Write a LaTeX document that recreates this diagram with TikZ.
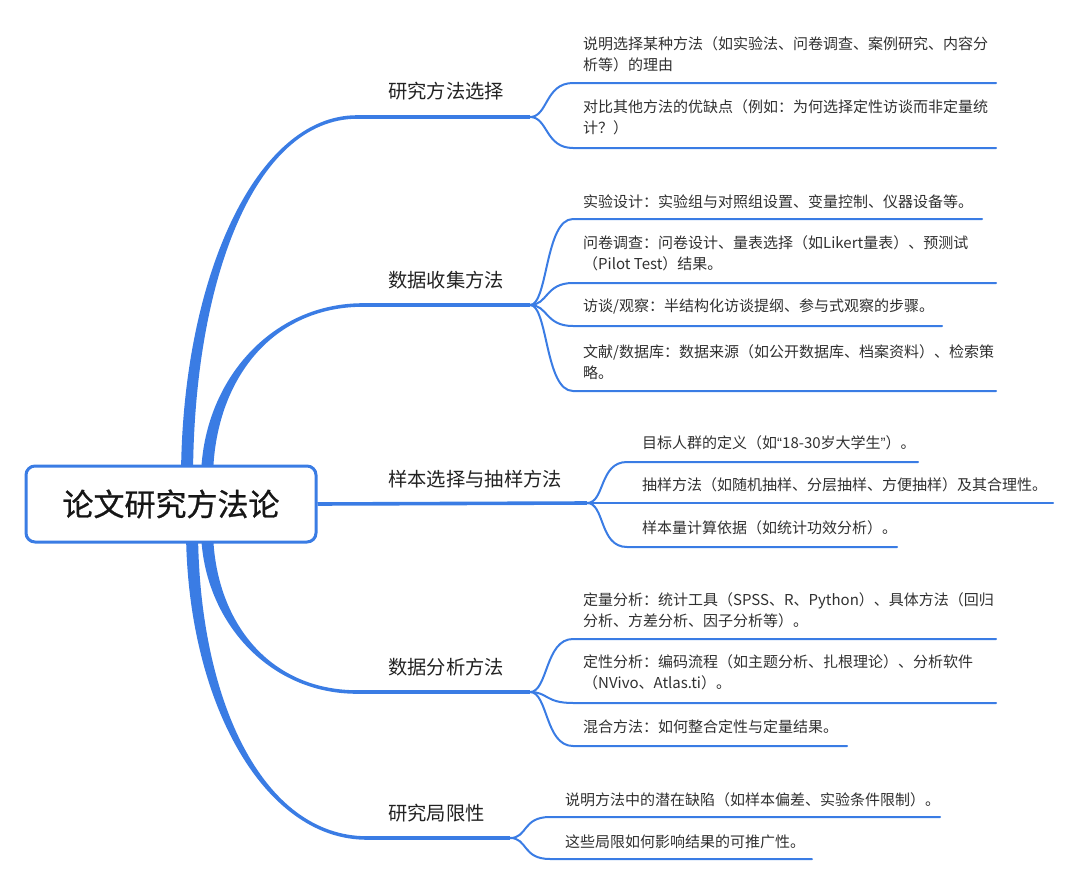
\documentclass[tikz,border=0pt]{standalone}
\usepackage{fontspec}
\newfontfamily\cjk{Noto Sans CJK SC}
\newfontfamily\cjkroot{Noto Sans CJK SC}[FakeBold=0.8]
\newfontfamily\lat{Liberation Sans}
\usetikzlibrary{calc,backgrounds}
\definecolor{mblue}{RGB}{58,124,228}
\definecolor{txt}{RGB}{48,48,48}
\definecolor{lbl}{RGB}{34,34,34}
\tikzset{
  subtext/.style={font=\cjk\fontsize{15}{21}\selectfont, text=txt, anchor=west, inner sep=0pt, align=left},
  labtext/.style={font=\cjk\fontsize{19.3}{22}\selectfont, text=lbl, anchor=west, inner sep=0pt},
  subline/.style={draw=mblue, line width=2pt, line cap=round},
  mainline/.style={draw=mblue, line width=3.6pt},
}
% tapered main branch: #1 start, #2 end, #3 = +1 (upwards) or -1 (downwards)
\newcommand\mbranch[3]{%
  \fill[mblue] let \p1=(#1), \p2=(#2) in
   (\x1-6pt,\y1) .. controls (\x1-6pt,{\y1+0.55*(\y2-\y1)}) and ({\x2-0.6*(\x2-\x1)},{\y2+(#3)*1.8pt}) .. (\x2,{\y2+(#3)*1.8pt})
   -- (\x2,{\y2-(#3)*1.8pt}) .. controls ({\x2-0.6*(\x2-\x1)},{\y2-(#3)*1.8pt}) and (\x1+6pt,{\y1+0.55*(\y2-\y1)}) .. (\x1+6pt,\y1) -- cycle;}
\newcommand\forkto[3]{\draw[subline] (#1) .. controls +(18,0) and +(-28,0) .. (#2) -- (#3);}
\begin{document}
\begin{tikzpicture}[x=1pt,y=-1pt]
\useasboundingbox (0,0) rectangle (1080,886);

% root
\node[draw=mblue, line width=3pt, rounded corners=9pt, fill=white,
      minimum width=290pt, minimum height=76pt, inner sep=0pt,
      font=\cjkroot\fontsize{31}{36}\selectfont, text={rgb,255:red,22;green,22;blue,22}]
  (root) at (171,504) {论文研究方法论};

% coordinates
\coordinate (r1) at (187,480); \coordinate (b1) at (357,117); \coordinate (f1) at (530,117);
\coordinate (r2) at (207,480); \coordinate (b2) at (363,305); \coordinate (f2) at (530,305);
\coordinate (f3) at (587,503);
\coordinate (r4) at (207,528); \coordinate (b4) at (357,692); \coordinate (f4) at (530,692);
\coordinate (r5) at (192,528); \coordinate (b5) at (367,838); \coordinate (f5) at (510,838);

\coordinate (s11l) at (573,83);  \coordinate (s11r) at (996,83);
\coordinate (s12l) at (573,148); \coordinate (s12r) at (996,148);
\coordinate (s21l) at (573,219); \coordinate (s21r) at (982,219);
\coordinate (s22l) at (573,283); \coordinate (s22r) at (996,283);
\coordinate (s23l) at (573,326); \coordinate (s23r) at (942,326);
\coordinate (s24l) at (573,391); \coordinate (s24r) at (996,391);
\coordinate (s31l) at (627,462); \coordinate (s31r) at (918,462);
\coordinate (s32r) at (1053,503);
\coordinate (s33l) at (627,547); \coordinate (s33r) at (897,547);
\coordinate (s41l) at (573,639); \coordinate (s41r) at (996,639);
\coordinate (s42l) at (573,703); \coordinate (s42r) at (996,703);
\coordinate (s43l) at (573,746); \coordinate (s43r) at (847,746);
\coordinate (s51l) at (550,817); \coordinate (s51r) at (940,817);
\coordinate (s52l) at (550,859); \coordinate (s52r) at (812,859);

\begin{pgfonlayer}{background}
  \mbranch{r1}{b1}{1} \draw[mainline] (b1) -- (f1);
  \mbranch{r2}{b2}{1} \draw[mainline] (b2) -- (f2);
  \draw[mainline] (root.east) -- (f3);
  \mbranch{r4}{b4}{-1} \draw[mainline] (b4) -- (f4);
  \mbranch{r5}{b5}{-1} \draw[mainline] (b5) -- (f5);

  \forkto{f1}{s11l}{s11r} \forkto{f1}{s12l}{s12r}
  \forkto{f2}{s21l}{s21r} \forkto{f2}{s22l}{s22r}
  \forkto{f2}{s23l}{s23r} \forkto{f2}{s24l}{s24r}
  \forkto{f3}{s31l}{s31r} \draw[subline] (f3) -- (s32r);
  \forkto{f3}{s33l}{s33r}
  \forkto{f4}{s41l}{s41r} \forkto{f4}{s42l}{s42r} \forkto{f4}{s43l}{s43r}
  \forkto{f5}{s51l}{s51r} \forkto{f5}{s52l}{s52r}
\end{pgfonlayer}

% main labels
\node[labtext] (l1) at (388,91)  {研究方法选择};
\node[labtext] (l2) at (388,280) {数据收集方法};
\node[labtext] (l3) at (388,479) {样本选择与抽样方法};
\node[labtext] (l4) at (388,667) {数据分析方法};
\node[labtext] (l5) at (388,813) {研究局限性};

% sub texts
\node[subtext] (t11) at (583,54.5) {说明选择某种方法（如实验法、问卷调查、案例研究、内容分\\析等）的理由};
\node[subtext] (t12) at (583,117.5) {对比其他方法的优缺点（例如：为何选择定性访谈而非定量统\\计？）};
\node[subtext] (t21) at (583,202) {实验设计：实验组与对照组设置、变量控制、仪器设备等。};
\node[subtext] (t22) at (583,253) {问卷调查：问卷设计、量表选择（如Likert量表）、预测试\\（Pilot Test）结果。};
\node[subtext] (t23) at (583,307) {访谈/观察：半结构化访谈提纲、参与式观察的步骤。};
\node[subtext] (t24) at (583,362) {文献/数据库：数据来源（如公开数据库、档案资料）、检索策\\略。};
\node[subtext] (t31) at (642,443) {目标人群的定义（如{\lat “}18-30岁大学生{\lat ”}）。};
\node[subtext] (t32) at (642,485) {抽样方法（如随机抽样、分层抽样、方便抽样）及其合理性。};
\node[subtext] (t33) at (642,528) {样本量计算依据（如统计功效分析）。};
\node[subtext] (t41) at (583,610) {定量分析：统计工具（SPSS、R、Python）、具体方法（回归\\分析、方差分析、因子分析等）。};
\node[subtext] (t42) at (583,672.5) {定性分析：编码流程（如主题分析、扎根理论）、分析软件\\（NVivo、Atlas.ti）。};
\node[subtext] (t43) at (583,727) {混合方法：如何整合定性与定量结果。};
\node[subtext] (t51) at (565,800) {说明方法中的潜在缺陷（如样本偏差、实验条件限制）。};
\node[subtext] (t52) at (565,842) {这些局限如何影响结果的可推广性。};
\end{tikzpicture}
\end{document}
